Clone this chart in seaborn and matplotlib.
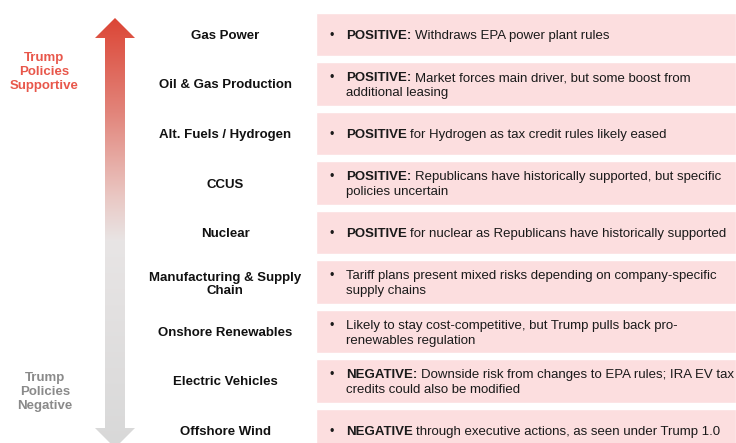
import numpy as np
import matplotlib
matplotlib.use("Agg")
import matplotlib.pyplot as plt
from matplotlib.colors import LinearSegmentedColormap
from matplotlib.patches import Polygon
import seaborn as sns

# sectors, top (most supported) to bottom (most hurt)
sectors = ["Gas Power", "Oil & Gas Production", "Alt. Fuels / Hydrogen", "CCUS", "Nuclear",
           "Manufacturing & Supply\nChain", "Onshore Renewables", "Electric Vehicles", "Offshore Wind"]

# bold lead word of each comment
leads = ["POSITIVE:", "POSITIVE:", "POSITIVE", "POSITIVE:", "POSITIVE", "", "", "NEGATIVE:", "NEGATIVE"]

# rest of the first line and the wrapped second line
first_lines = ["Withdraws EPA power plant rules",
               "Market forces main driver, but some boost from",
               "for Hydrogen as tax credit rules likely eased",
               "Republicans have historically supported, but specific",
               "for nuclear as Republicans have historically supported",
               "Tariff plans present mixed risks depending on company-specific",
               "Likely to stay cost-competitive, but Trump pulls back pro-",
               "Downside risk from changes to EPA rules; IRA EV tax",
               "through executive actions, as seen under Trump 1.0"]
second_lines = ["", "additional leasing", "", "policies uncertain", "",
                "supply chains", "renewables regulation", "credits could also be modified", ""]

box_fill = [1] * len(sectors)

sns.set_theme(style="white")
plt.rcParams["font.family"] = ["Liberation Sans", "DejaVu Sans"]

W, H = 736, 443
fig = plt.figure(figsize=(W / 100, H / 100), dpi=100)

# background axes in pixel units for the arrow and side notes
bg = fig.add_axes([0, 0, 1, 1])
bg.set_xlim(0, W)
bg.set_ylim(H, 0)
bg.axis("off")

arrow_pts = [(115, 18), (135, 38), (125, 38), (125, 428), (135, 428), (115, 448),
             (95, 428), (105, 428), (105, 38), (95, 38)]
arrow = Polygon(arrow_pts, closed=True, facecolor="none", edgecolor="none")
bg.add_patch(arrow)
grad_cmap = LinearSegmentedColormap.from_list(
    "arrow", [(0.0, "#DC4636"), (0.22, "#E2857B"), (0.42, "#EAC9C5"),
              (0.52, "#E8E5E5"), (1.0, "#D8D8D8")])
grad = np.linspace(0, 1, 256).reshape(-1, 1)
img = bg.imshow(grad, cmap=grad_cmap, aspect="auto", extent=[95, 135, 448, 18],
                interpolation="bilinear")
img.set_clip_path(arrow)
bg.set_xlim(0, W)
bg.set_ylim(H, 0)

bg.text(44, 72, "Trump\nPolicies\nSupportive", ha="center", va="center", fontsize=9.5,
        fontweight="bold", color="#E8574B", linespacing=1.2)
bg.text(45, 392, "Trump\nPolicies\nNegative", ha="center", va="center", fontsize=9.5,
        fontweight="bold", color="#8A8A8A", linespacing=1.2)

# comment boxes drawn as horizontal bars
ax = fig.add_axes([316 / W, 0, 420 / W, 1])
sns.barplot(x=box_fill, y=sectors, orient="h", width=0.869, color="#FCDEDF",
            saturation=1, ax=ax)
ax.set_xlim(0, 1)
pitch = 49.5
ax.set_ylim((H - 34.5) / pitch, -34.5 / pitch)
ax.set_xlabel("")
ax.set_ylabel("")
ax.set_xticks([])
sns.despine(ax=ax, left=True, bottom=True)
ax.tick_params(axis="y", length=0, pad=65.5)
for lab in ax.get_yticklabels():
    lab.set_ha("center")
    lab.set_multialignment("center")
    lab.set_fontweight("bold")
    lab.set_fontsize(9.5)
    lab.set_color("#111111")
    lab.set_linespacing(1.2)

tr = ax.get_yaxis_transform()
dy = 7.5 / pitch
base = 4.8 / pitch
txt_kw = dict(fontsize=9.5, color="#1A1A1A", va="baseline", ha="left")
for i in range(len(sectors)):
    y1 = (i - dy if second_lines[i] else i) + base
    ax.text(13 / 420, y1, "\u2022", transform=tr, fontsize=9,
            color="#1A1A1A", va="baseline", ha="left")
    if leads[i]:
        b = ax.text(30 / 420, y1, leads[i], transform=tr, fontweight="bold", **txt_kw)
        ax.annotate(first_lines[i], xy=(1, 0.5), xycoords=b, xytext=(2.6, 0),
                    textcoords="offset points", fontsize=9.5, color="#1A1A1A",
                    va="center", ha="left")
    else:
        ax.text(30 / 420, y1, first_lines[i], transform=tr, **txt_kw)
    if second_lines[i]:
        ax.text(30 / 420, i + dy + base, second_lines[i], transform=tr, **txt_kw)

fig.savefig("out.png", dpi=100)
